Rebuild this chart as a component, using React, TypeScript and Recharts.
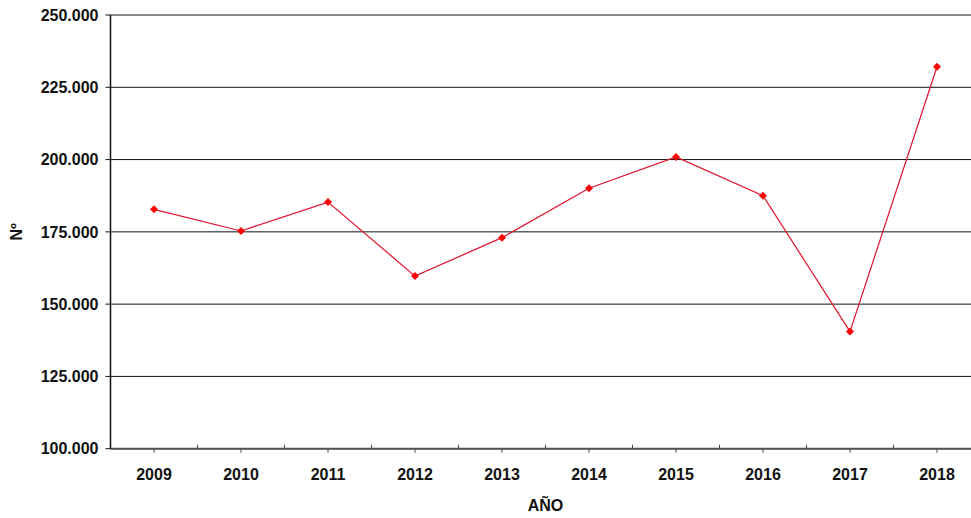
import React from 'react';
import { LineChart, Line, XAxis, YAxis, CartesianGrid } from 'recharts';

const years = ['2009', '2010', '2011', '2012', '2013', '2014', '2015', '2016', '2017', '2018'];
const values = [182800, 175300, 185300, 159700, 173000, 190100, 200900, 187500, 140500, 232100];
const yTicks = [100000, 125000, 150000, 175000, 200000, 225000, 250000];

const data = years.map((y, i) => ({ year: y, value: values[i] }));

const CHART_W = 990;
const CHART_H = 518;
const MARGIN = { top: 15, right: 9.5, left: 0, bottom: 9.3 };
const Y_AXIS_W = 110.5;
const PLOT_W = CHART_W - MARGIN.left - MARGIN.right - Y_AXIS_W;
const HALF_BAND = PLOT_W / years.length / 2;
const X_TICK_SIZE = 4;
const X_TICK_MARGIN = 15;
const FONT = '"Liberation Sans", Arial, sans-serif';

const fmt = (v: number) => String(v).replace(/\B(?=(\d{3})+(?!\d))/g, '.');

function XTick(props: any) {
  const { x, y, payload, index } = props;
  const axisY = y - X_TICK_SIZE - X_TICK_MARGIN;
  return (
    <g>
      <line x1={x} x2={x} y1={axisY} y2={axisY + X_TICK_SIZE} stroke="#444" strokeWidth={1} />
      {index > 0 && (
        <line x1={x - HALF_BAND} x2={x - HALF_BAND} y1={axisY} y2={axisY - 4} stroke="#444" strokeWidth={1} />
      )}
      <text
        x={x}
        y={y + 1}
        dy="0.71em"
        textAnchor="middle"
        fontFamily={FONT}
        fontWeight="bold"
        fontSize={16}
        fill="#111"
      >
        {payload.value}
      </text>
    </g>
  );
}

function Diamond(props: any) {
  const { cx, cy, index } = props;
  if (cx == null || cy == null) return <g key={`d-${index}`} />;
  const s = 4;
  return (
    <polygon
      key={`d-${index}`}
      points={`${cx},${cy - s} ${cx + s},${cy} ${cx},${cy + s} ${cx - s},${cy}`}
      fill="#ff0000"
      stroke="none"
    />
  );
}

export default function App() {
  return (
    <div
      style={{
        position: 'absolute',
        left: 0,
        top: 0,
        width: 971,
        height: 518,
        overflow: 'hidden',
        background: '#fff',
      }}
    >
      <LineChart width={CHART_W} height={CHART_H} data={data} margin={MARGIN}>
        <CartesianGrid vertical={false} stroke="#111" strokeWidth={1} />
        <XAxis
          dataKey="year"
          scale="band"
          interval={0}
          height={60}
          tickSize={X_TICK_SIZE}
          tickMargin={X_TICK_MARGIN}
          tickLine={false}
          axisLine={{ stroke: '#555', strokeWidth: 2 }}
          tick={<XTick />}
          label={{
            value: 'AÑO',
            position: 'insideBottom',
            offset: -2,
            style: { fontFamily: FONT, fontWeight: 'bold', fontSize: 16, fill: '#111' },
          }}
        />
        <YAxis
          width={Y_AXIS_W}
          domain={[100000, 250000]}
          ticks={yTicks}
          interval={0}
          tickFormatter={fmt}
          tickSize={5}
          tickMargin={7}
          tickLine={{ stroke: '#111' }}
          axisLine={{ stroke: '#111', strokeWidth: 1.5 }}
          tick={{ fontFamily: FONT, fontWeight: 'bold', fontSize: 16, fill: '#111' }}
          label={{
            value: 'Nº',
            angle: -90,
            position: 'center',
            dx: -39,
            style: { fontFamily: FONT, fontWeight: 'bold', fontSize: 16, fill: '#111' },
          }}
        />
        <Line
          type="linear"
          dataKey="value"
          stroke="#e0102a"
          strokeWidth={1.2}
          dot={Diamond}
          activeDot={false}
          isAnimationActive={false}
        />
      </LineChart>
    </div>
  );
}
